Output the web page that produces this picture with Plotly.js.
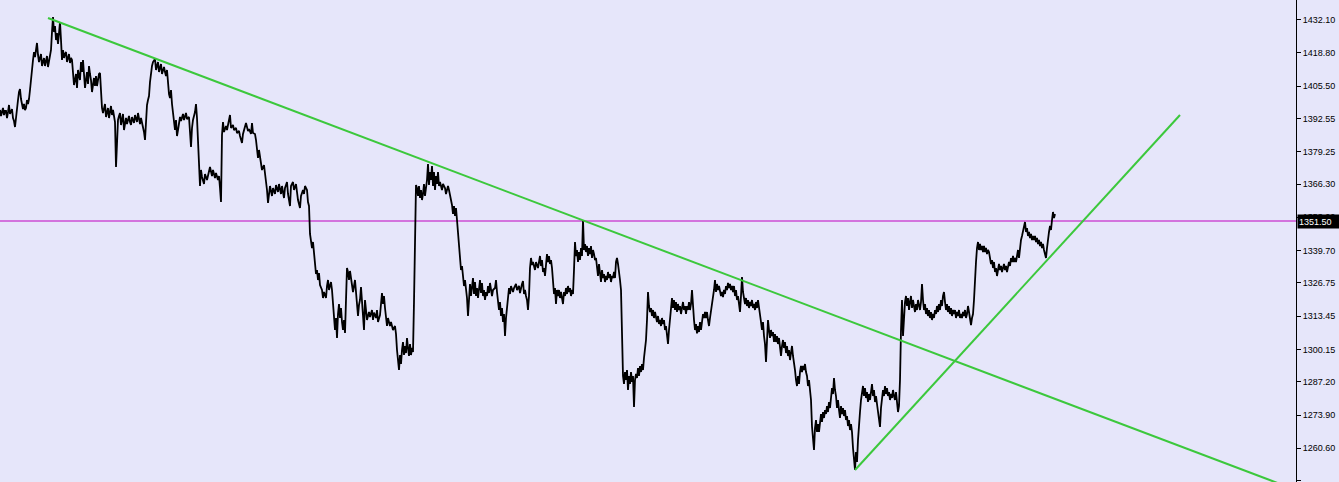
<!DOCTYPE html>
<html>
<head>
<meta charset="utf-8">
<script src="https://cdn.plot.ly/plotly-3.0.1.min.js"></script>
<style>html,body{margin:0;padding:0;background:#E6E6FA;}#chart{width:1339px;height:482px;}</style>
</head>
<body>
<div id="chart"></div>
<script>
// ---- price data (bar number -> price) ----
// segment A: bars 0..179 (one price per bar)
const startA = 0;
const pricesA = [
1395.9,1393.5,1395.1,1396.7,1393.9,1395.5,1395.5,1392.7,1395.1,1397.9,
1394.3,1395.9,1396.3,1392.7,1391.5,1389.1,1393.9,1397.5,1399.9,1403.1,
1404.3,1400.3,1398.3,1396.3,1398.3,1395.9,1396.7,1399.9,1398.3,1400.3,
1403.9,1408.7,1410.3,1415.9,1419.1,1417.1,1419.9,1422.7,1417.9,1415.1,
1416.7,1418.3,1413.5,1415.9,1416.7,1413.5,1415.5,1417.5,1413.1,1415.1,
1416.7,1419.9,1427.1,1433.1,1427.1,1429.5,1423.9,1426.7,1422.3,1427.9,
1431.1,1423.9,1415.9,1419.9,1416.7,1418.3,1419.1,1415.1,1417.1,1418.3,
1414.7,1416.7,1415.9,1408.7,1405.9,1407.9,1410.3,1404.7,1411.9,1409.5,
1407.9,1415.1,1411.1,1415.9,1408.7,1404.7,1407.9,1411.1,1406.3,1413.5,
1410.3,1407.9,1403.1,1406.3,1408.7,1405.5,1409.5,1405.5,1407.9,1410.3,
1410.7,1403.1,1396.7,1394.7,1396.7,1398.3,1393.1,1395.1,1396.7,1392.7,
1395.1,1397.5,1393.9,1395.9,1393.5,1391.1,1373.1,1383.9,1391.9,1393.5,
1394.7,1389.9,1392.7,1394.3,1387.9,1391.1,1392.7,1390.3,1391.9,1393.5,
1391.1,1389.9,1393.1,1391.9,1390.7,1393.9,1392.3,1391.1,1394.7,1392.7,
1390.3,1392.7,1391.1,1389.5,1387.1,1383.9,1393.9,1397.9,1399.9,1401.5,
1407.1,1411.9,1413.5,1415.1,1415.9,1416.3,1411.9,1413.5,1415.1,1411.1,
1412.7,1414.3,1410.3,1411.9,1413.1,1411.1,1409.5,1411.9,1404.7,1402.3,
1400.7,1403.9,1398.3,1395.1,1392.7,1387.9,1391.9,1385.5,1387.9,1390.3
];
// segment B: bars 180..359
const barsB = [
180,181,183,184,186,187,189,190,191,192,193,195,196,197,198,199,200,201,202,204,
205,207,209,210,212,213,215,216,218,219,220,221,222,223,224,226,227,229,230,231,
233,234,236,237,239,240,242,243,245,246,248,249,251,252,253,255,256,257,258,259,
261,262,264,265,266,267,268,269,270,272,273,275,276,278,279,281,282,284,285,287,
288,290,291,293,294,296,297,298,300,301,303,304,305,307,308,309,310,311,312,313,
314,315,316,317,318,319,320,322,323,324,326,327,328,329,331,332,333,334,335,336,
337,338,339,340,341,342,343,344,345,346,347,348,349,350,352,353,355,356,357,358,
359
];
const pricesB = [
1393.1,1391.5,1394.3,1391.9,1394.7,1392.3,1393.1,1387.1,1381.1,1388.7,1391.9,1395.1,1398.3,1392.7,1383.9,1368.7,1365.5,1371.9,1369.1,1366.3,
1370.3,1367.9,1371.9,1373.1,1369.5,1371.9,1368.7,1370.7,1367.9,1369.5,1364.7,1359.1,1385.9,1391.1,1387.1,1389.5,1387.9,1391.9,1393.9,1388.7,
1389.9,1387.9,1388.7,1386.7,1387.5,1385.5,1382.7,1386.3,1388.7,1390.7,1387.5,1388.3,1386.3,1390.7,1386.7,1386.3,1383.9,1380.7,1376.7,1379.9,
1375.1,1371.9,1373.9,1371.1,1367.1,1363.9,1358.7,1362.7,1365.5,1361.5,1364.7,1362.3,1365.9,1363.1,1366.3,1362.3,1365.5,1360.7,1364.7,1367.1,
1362.3,1357.5,1365.5,1367.1,1363.9,1366.3,1363.1,1359.9,1356.7,1361.5,1363.9,1362.3,1365.5,1363.9,1359.1,1357.5,1346.3,1343.9,1340.7,1343.1,
1337.5,1332.7,1330.3,1331.9,1327.9,1330.7,1325.9,1323.9,1320.7,1323.1,1320.7,1325.5,1327.9,1323.9,1327.1,1323.9,1317.9,1313.9,1307.9,1312.7,
1304.7,1314.3,1318.3,1312.7,1316.7,1311.1,1307.9,1311.9,1306.7,1319.9,1332.7,1331.1,1327.9,1331.5,1326.3,1323.1,1327.9,1323.9,1319.1,1313.5,
1317.9
];
// segment C: bars 360..539
const barsC = [
360,361,362,363,364,365,366,367,369,370,372,373,374,376,377,378,380,381,382,383,
384,385,386,387,388,390,391,393,395,396,397,398,399,400,401,402,403,404,405,406,
407,408,409,410,411,412,413,414,415,416,417,418,419,420,421,422,423,424,425,426,
427,428,429,430,431,432,433,434,435,436,437,438,439,440,442,443,445,446,448,449,
450,452,453,454,455,456,457,458,459,460,461,462,463,464,465,466,467,468,469,470,
471,472,473,474,475,476,477,478,479,480,481,482,483,484,485,486,487,488,489,490,
492,493,495,496,497,498,499,500,501,502,503,504,505,506,507,508,509,510,511,513,
514,516,517,519,520,522,523,524,525,526,527,528,529,530,531,532,533,535,536,538,
539
];
const pricesC = [
1319.9,1325.1,1319.9,1315.9,1307.9,1319.9,1315.1,1311.9,1315.1,1313.1,1315.9,1311.9,1314.9,1312.7,1315.9,1311.1,1313.9,1317.9,1322.7,1318.3,
1321.5,1316.7,1312.7,1309.5,1312.7,1309.5,1311.1,1307.9,1309.5,1306.3,1299.9,1295.1,1291.9,1297.9,1294.3,1299.9,1303.1,1297.9,1301.5,1298.7,
1304.7,1300.7,1297.5,1302.3,1297.9,1300.7,1299.1,1319.1,1347.9,1365.9,1364.7,1361.5,1365.5,1360.7,1363.9,1359.9,1362.3,1366.3,1361.5,1363.9,
1367.9,1374.3,1365.9,1371.1,1367.9,1373.5,1365.5,1371.1,1363.9,1369.5,1366.3,1371.1,1365.5,1367.1,1363.9,1366.3,1364.7,1362.3,1365.5,1363.9,
1362.3,1357.9,1354.3,1357.5,1353.5,1356.7,1351.9,1347.1,1343.9,1336.7,1331.9,1333.5,1329.5,1325.5,1327.9,1323.9,1320.7,1313.5,1323.1,1326.3,
1321.5,1326.3,1328.7,1322.3,1327.1,1321.5,1324.7,1320.7,1323.9,1327.9,1322.7,1326.7,1321.5,1323.9,1319.9,1323.1,1321.5,1325.5,1322.7,1326.7,
1321.5,1323.9,1324.7,1327.9,1323.1,1319.1,1315.9,1319.1,1313.5,1316.7,1311.1,1314.3,1305.5,1312.7,1315.9,1320.7,1324.7,1322.3,1325.5,1323.1,
1324.7,1326.3,1323.9,1325.5,1322.7,1326.3,1327.5,1322.3,1323.9,1321.5,1319.9,1315.9,1321.5,1332.7,1336.7,1333.9,1335.1,1331.9,1335.1,1332.7,
1335.9
];
// segment D: bars 540..719
const startD = 540;
const pricesD = [
1337.5,1333.5,1335.9,1331.1,1332.7,1329.5,1335.1,1338.3,1335.1,1337.5,
1334.3,1335.9,1332.7,1325.5,1322.3,1324.7,1318.3,1323.9,1321.5,1323.9,
1320.7,1323.1,1319.9,1318.3,1323.1,1321.5,1324.7,1322.3,1325.5,1323.1,
1324.7,1321.5,1323.9,1322.3,1331.9,1343.1,1337.5,1339.9,1335.1,1339.1,
1335.9,1340.7,1337.5,1351.9,1339.9,1342.3,1339.1,1341.5,1337.5,1340.7,
1338.3,1341.5,1336.7,1339.9,1338.3,1335.9,1336.7,1333.5,1329.5,1334.3,
1330.3,1327.1,1331.9,1328.7,1330.3,1327.1,1329.5,1327.9,1331.1,1328.7,
1330.3,1327.1,1329.5,1328.7,1331.1,1328.7,1335.1,1336.7,1334.3,1331.9,
1327.9,1323.9,1299.9,1289.5,1286.3,1291.1,1287.9,1291.9,1283.9,1289.5,
1286.3,1291.1,1287.1,1289.5,1277.1,1287.9,1290.3,1288.7,1292.7,1289.5,
1293.5,1291.1,1294.3,1291.9,1296.7,1299.9,1303.9,1311.9,1323.1,1317.5,
1315.1,1316.7,1313.5,1315.9,1312.7,1315.1,1312.7,1311.1,1313.5,1310.3,
1311.9,1309.5,1312.7,1310.3,1311.9,1307.9,1309.5,1305.5,1302.3,1307.9,
1311.9,1315.9,1320.7,1316.7,1319.9,1315.9,1319.1,1315.1,1318.3,1315.9,
1317.5,1314.3,1316.7,1319.1,1315.9,1317.5,1314.3,1317.5,1315.9,1319.1,
1315.9,1318.3,1323.9,1315.1,1311.9,1307.9,1310.3,1306.5,1309.5,1307.1,
1311.1,1307.9,1311.9,1314.3,1312.7,1315.1,1312.7,1315.1,1311.9,1309.5,
1312.7,1315.1,1317.5,1320.7,1323.9,1327.9,1323.1,1326.3,1323.9,1325.5
];
// segment E: bars 720..899
const startE = 720;
const pricesE = [
1323.9,1321.5,1323.1,1321.1,1323.9,1322.3,1325.5,1323.9,1326.7,1324.7,
1326.3,1323.9,1325.5,1323.1,1325.5,1321.5,1323.9,1319.9,1321.5,1317.5,
1315.1,1321.5,1329.1,1323.1,1320.7,1318.3,1320.7,1317.5,1319.9,1316.7,
1319.1,1317.5,1319.9,1316.7,1318.3,1315.9,1319.1,1316.7,1319.9,1317.5,
1313.5,1311.1,1307.9,1311.1,1305.5,1302.3,1295.1,1303.9,1311.9,1307.9,
1304.7,1307.9,1305.5,1307.1,1303.1,1306.3,1303.1,1305.5,1302.3,1304.7,
1299.9,1297.5,1301.5,1303.9,1300.7,1303.1,1298.7,1301.5,1297.5,1299.9,
1295.9,1298.7,1301.5,1297.5,1295.1,1291.9,1287.9,1285.5,1289.5,1286.3,
1291.1,1293.5,1291.1,1293.5,1291.9,1294.3,1291.1,1289.5,1285.5,1287.9,
1283.9,1279.9,1269.3,1265.5,1259.9,1268.7,1271.9,1267.1,1270.3,1267.1,
1271.9,1274.3,1271.1,1275.1,1272.7,1275.9,1274.3,1277.5,1275.1,1279.1,
1276.7,1281.5,1284.7,1282.3,1288.7,1283.9,1281.5,1276.7,1279.9,1275.9,
1272.7,1277.5,1274.3,1276.7,1273.5,1275.9,1271.9,1273.5,1269.5,1271.9,
1267.9,1270.3,1267.1,1260.7,1257.5,1251.9,1259.1,1255.1,1263.9,1271.9,
1275.1,1279.9,1282.3,1285.5,1281.5,1284.7,1280.7,1283.1,1279.1,1282.3,
1279.9,1284.7,1286.3,1281.5,1283.9,1279.1,1281.5,1278.3,1275.1,1271.9,
1269.1,1276.7,1280.7,1283.9,1281.5,1285.5,1282.3,1284.7,1281.5,1283.1,
1279.9,1282.3,1280.7,1283.9,1281.5,1279.9,1283.1,1278.3,1275.1,1277.5
];
// segment F: bars 900..1055
const startF = 900;
const pricesF = [
1287.9,1307.9,1319.9,1305.5,1315.9,1319.1,1321.5,1317.5,1320.7,1315.9,
1319.1,1321.5,1316.7,1319.9,1317.5,1315.1,1318.3,1315.9,1319.9,1317.5,
1315.9,1319.1,1326.3,1319.9,1315.9,1318.3,1314.3,1316.7,1313.5,1315.9,
1312.7,1315.1,1311.9,1314.3,1312.7,1315.9,1314.3,1317.5,1315.1,1318.3,
1315.9,1319.9,1317.5,1321.5,1323.1,1319.1,1315.9,1318.3,1315.1,1317.5,
1314.3,1316.7,1313.5,1315.9,1314.3,1315.9,1312.7,1315.1,1313.5,1315.9,
1312.7,1314.3,1312.7,1315.1,1313.5,1315.9,1312.7,1314.3,1317.5,1315.1,
1312.7,1309.9,1312.7,1314.3,1319.9,1329.5,1335.1,1340.7,1343.1,1339.9,
1342.3,1339.9,1341.5,1339.1,1341.5,1339.1,1340.7,1338.3,1339.9,1339.1,
1336.7,1334.3,1335.9,1332.7,1335.1,1331.1,1332.7,1329.5,1331.9,1334.3,
1331.9,1333.5,1331.1,1332.7,1334.3,1331.9,1333.5,1331.1,1332.7,1335.1,
1333.5,1336.7,1335.1,1337.5,1335.1,1336.7,1335.1,1337.5,1339.9,1336.7,
1340.7,1343.9,1345.5,1347.1,1349.5,1351.1,1347.1,1348.7,1345.5,1347.1,
1344.7,1346.3,1343.9,1345.5,1343.9,1345.5,1343.1,1344.7,1342.3,1343.9,
1341.5,1343.1,1340.7,1342.3,1339.9,1338.3,1336.7,1340.7,1344.7,1347.1,
1349.5,1347.9,1351.9,1355.1,1352.7,1354.3
];
// trend lines (bar, price)
const downBars = [48, 1296];
const downPrices = [1432.7, 1243.9];
const upBars = [855, 1180];
const upPrices = [1251.9, 1393.9];
// current price line
const lastPrice = 1351.50;
// right-axis ticks
const tickVals = [1432.10,1418.80,1405.50,1392.55,1379.25,1366.30,1353.00,1339.70,1326.75,1313.45,1300.15,1287.20,1273.90,1260.60,1247.65];
const tickText = ['1432.10','1418.80','1405.50','1392.55','1379.25','1366.30','1353.00','1339.70','1326.75','1313.45','1300.15','1287.20','1273.90','1260.60','1247.65'];

// ---- build series ----
const xs = [], ys = [];
pricesA.forEach((p,i)=>{xs.push(startA+i); ys.push(p);});
const nB = Math.min(barsB.length, pricesB.length);
for (let i=0;i<nB;i++){xs.push(barsB[i]); ys.push(pricesB[i]);}
const nC = Math.min(barsC.length, pricesC.length);
for (let i=0;i<nC;i++){xs.push(barsC[i]); ys.push(pricesC[i]);}
pricesD.forEach((p,i)=>{xs.push(startD+i); ys.push(p);});
pricesE.forEach((p,i)=>{xs.push(startE+i); ys.push(p);});
pricesF.forEach((p,i)=>{xs.push(startF+i); ys.push(p);});

const traces = [
  {x: xs, y: ys, type:'scatter', mode:'lines', line:{color:'#000000', width:1.8}, hoverinfo:'skip'},
  {x: downBars, y: downPrices, type:'scatter', mode:'lines', line:{color:'#3CC83C', width:2}, hoverinfo:'skip'},
  {x: upBars, y: upPrices, type:'scatter', mode:'lines', line:{color:'#3CC83C', width:2}, hoverinfo:'skip'}
];
const layout = {
  width:1339, height:482,
  margin:{l:0, r:43, t:0, b:0, pad:0},
  paper_bgcolor:'#E6E6FA', plot_bgcolor:'#E6E6FA',
  showlegend:false,
  xaxis:{range:[0,1296], visible:false, fixedrange:true},
  yaxis:{side:'right', range:[1247.1,1439.9], showgrid:false, zeroline:false,
    showline:true, linecolor:'#000000', linewidth:1, ticks:'outside', ticklen:4, tickwidth:1, tickcolor:'#000000',
    tickmode:'array', tickvals:tickVals, ticktext:tickText,
    tickfont:{family:'"Liberation Sans", Arial, sans-serif', size:9, color:'#000000'}, fixedrange:true},
  shapes:[{type:'line', xref:'paper', x0:0, x1:1, yref:'y', y0:lastPrice, y1:lastPrice, line:{color:'#C000C0', width:1.2}, layer:'below'}],
  annotations:[{xref:'paper', x:1, xanchor:'left', xshift:1, yref:'y', y:lastPrice, yanchor:'middle',
    text:lastPrice.toFixed(2), showarrow:false, bgcolor:'#000000', borderpad:1, width:40, height:11, align:'left',
    font:{family:'"Liberation Sans", Arial, sans-serif', size:9, color:'#ffffff'}}]
};
Plotly.newPlot('chart', traces, layout, {staticPlot:true, displayModeBar:false});
</script>
</body>
</html>
